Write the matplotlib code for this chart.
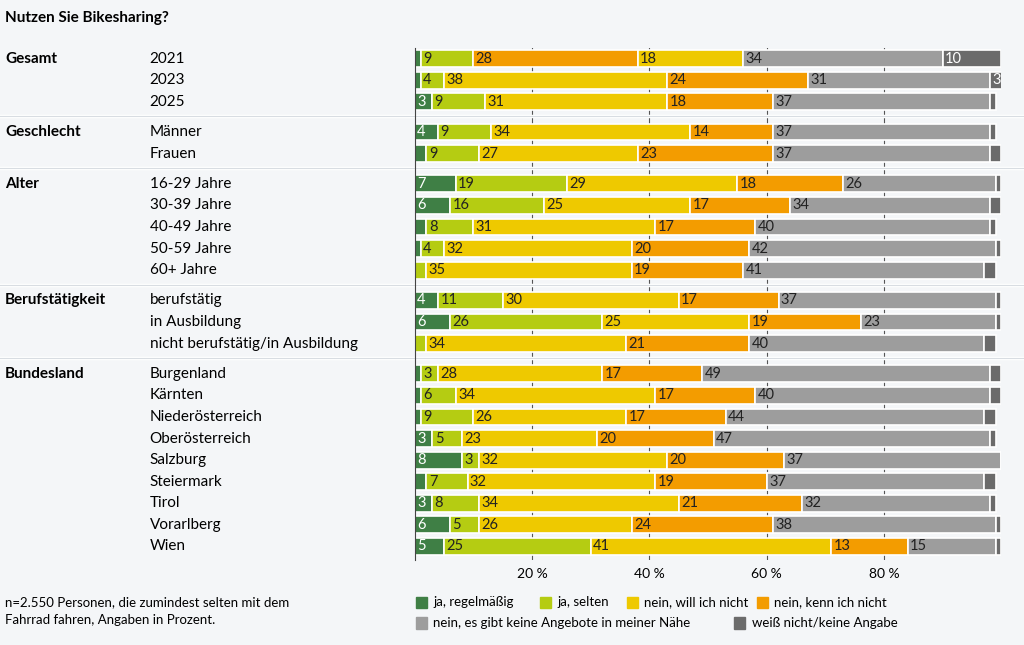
import matplotlib
matplotlib.use("Agg")
import matplotlib.pyplot as plt
from matplotlib.patches import Rectangle
from matplotlib.lines import Line2D
from matplotlib.transforms import blended_transform_factory

plt.rcParams['font.family'] = ['Lato', 'DejaVu Sans']

groups = ["Gesamt", "Geschlecht", "Alter", "Berufstätigkeit", "Bundesland"]
rows = [
    ["2021", "2023", "2025"],
    ["Männer", "Frauen"],
    ["16-29 Jahre", "30-39 Jahre", "40-49 Jahre", "50-59 Jahre", "60+ Jahre"],
    ["berufstätig", "in Ausbildung", "nicht berufstätig/in Ausbildung"],
    ["Burgenland", "Kärnten", "Niederösterreich", "Oberösterreich", "Salzburg",
     "Steiermark", "Tirol", "Vorarlberg", "Wien"],
]
categories = ["ja, regelmäßig", "ja, selten", "nein, will ich nicht", "nein, kenn ich nicht",
              "nein, es gibt keine Angebote in meiner Nähe", "weiß nicht/keine Angabe"]
values = [
    [1, 9, 28, 18, 34, 10],
    [1, 4, 38, 24, 31, 3],
    [3, 9, 31, 18, 37, 1],
    [4, 9, 34, 14, 37, 1],
    [2, 9, 27, 23, 37, 2],
    [7, 19, 29, 18, 26, 1],
    [6, 16, 25, 17, 34, 2],
    [2, 8, 31, 17, 40, 1],
    [1, 4, 32, 20, 42, 1],
    [0, 2, 35, 19, 41, 2],
    [4, 11, 30, 17, 37, 1],
    [6, 26, 25, 19, 23, 1],
    [0, 2, 34, 21, 40, 2],
    [1, 3, 28, 17, 49, 2],
    [1, 6, 34, 17, 40, 2],
    [1, 9, 26, 17, 44, 2],
    [3, 5, 23, 20, 47, 1],
    [8, 3, 32, 20, 37, 0.5],
    [2, 7, 32, 19, 37, 2],
    [3, 8, 34, 21, 32, 1],
    [6, 5, 26, 24, 38, 1],
    [5, 25, 41, 13, 15, 1],
]
colors = ["#3f7f45", "#b5cc12", "#eec900", "#f39c00", "#9d9d9d", "#6b6b6b"]
# in the 2021 row the original shows the orange segment before the yellow one
row_colors = {0: ["#3f7f45", "#b5cc12", "#f39c00", "#eec900", "#9d9d9d", "#6b6b6b"]}
white_text = {"#3f7f45", "#6b6b6b"}
bg = "#f4f6f8"

fig = plt.figure(figsize=(10.24, 6.45), dpi=100, facecolor=bg)
ax = fig.add_axes([0.405, 0.132, 0.573, 0.794], facecolor=bg)
bt = blended_transform_factory(fig.transFigure, ax.transData)

ypos = []
i = 0
for g, labels in enumerate(rows):
    first = i + 0.4 * g
    fig.text(0.005, first, groups[g], transform=bt, fontsize=11, fontweight='bold', va='center')
    if g > 0:
        ax.add_line(Line2D([0, 1], [first - 0.72] * 2, transform=bt, color="white", lw=2.5, clip_on=False))
        ax.add_line(Line2D([0, 1], [first - 0.72] * 2, transform=bt, color="#d8dde2", lw=0.8, clip_on=False))
    for lab in labels:
        y = i + 0.4 * g
        ypos.append(y)
        fig.text(0.146, y, lab, transform=bt, fontsize=11, va='center')
        i += 1

for x in [20, 40, 60, 80]:
    ax.axvline(x, color="#555555", lw=0.8, zorder=0)

for r, (y, vals) in enumerate(zip(ypos, values)):
    cols = row_colors.get(r, colors)
    left = 0
    for v, c in zip(vals, cols):
        ax.barh(y, v, left=left, height=0.78, color=c, edgecolor="white", linewidth=1.2, zorder=2)
        if v >= 3:
            ax.text(left + 0.4, y, f"{v:g}", va='center', ha='left', fontsize=10.5,
                    color="white" if c in white_text else "#222222", zorder=3)
        left += v

ax.set_xlim(0, 100)
ax.set_ylim(ypos[-1] + 0.62, -0.5)
ax.set_yticks([])
ax.set_xticks([20, 40, 60, 80])
ax.set_xticklabels(["20 %", "40 %", "60 %", "80 %"], fontsize=10)
ax.tick_params(axis='x', length=0, pad=6)
for s in ["top", "right", "bottom"]:
    ax.spines[s].set_visible(False)
ax.spines["left"].set_color("#444444")

fig.text(0.005, 0.972, "Nutzen Sie Bikesharing?", fontsize=11, fontweight='bold', va='center')
fig.text(0.005, 0.053, "n=2.550 Personen, die zumindest selten mit dem\nFahrrad fahren, Angaben in Prozent.",
         fontsize=9.5, va='center', linespacing=1.6)

leg_pos = [(0.406, 0.066), (0.527, 0.066), (0.612, 0.066), (0.739, 0.066),
           (0.406, 0.034), (0.717, 0.034)]
for (x, y), lab, c in zip(leg_pos, categories, colors):
    fig.patches.append(Rectangle((x, y - 0.009), 0.011, 0.018, transform=fig.transFigure, color=c))
    fig.text(x + 0.017, y, lab, fontsize=9.5, va='center')

fig.savefig("out.png", dpi=100, facecolor=bg)
